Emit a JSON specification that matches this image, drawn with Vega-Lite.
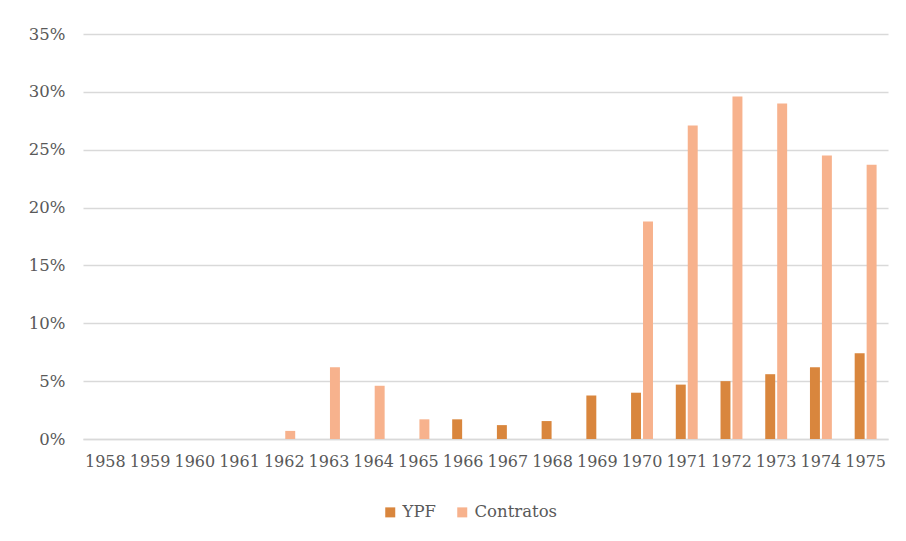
{
  "$schema": "https://vega.github.io/schema/vega-lite/v6.json",
  "width": 805,
  "height": 405,
  "autosize": {"type": "none"},
  "padding": {"left": 83, "top": 34, "right": 18, "bottom": 102},
  "background": "white",
  "config": {
    "view": {"stroke": null},
    "font": "DejaVu Serif"
  },
  "data": {
    "values": [
      {"year": "1958", "serie": "YPF", "value": 0}, {"year": "1958", "serie": "Contratos", "value": 0},
      {"year": "1959", "serie": "YPF", "value": 0}, {"year": "1959", "serie": "Contratos", "value": 0},
      {"year": "1960", "serie": "YPF", "value": 0}, {"year": "1960", "serie": "Contratos", "value": 0},
      {"year": "1961", "serie": "YPF", "value": 0}, {"year": "1961", "serie": "Contratos", "value": 0},
      {"year": "1962", "serie": "YPF", "value": 0}, {"year": "1962", "serie": "Contratos", "value": 0.007},
      {"year": "1963", "serie": "YPF", "value": 0}, {"year": "1963", "serie": "Contratos", "value": 0.062},
      {"year": "1964", "serie": "YPF", "value": 0}, {"year": "1964", "serie": "Contratos", "value": 0.046},
      {"year": "1965", "serie": "YPF", "value": 0}, {"year": "1965", "serie": "Contratos", "value": 0.017},
      {"year": "1966", "serie": "YPF", "value": 0.017}, {"year": "1966", "serie": "Contratos", "value": 0},
      {"year": "1967", "serie": "YPF", "value": 0.012}, {"year": "1967", "serie": "Contratos", "value": 0},
      {"year": "1968", "serie": "YPF", "value": 0.0155}, {"year": "1968", "serie": "Contratos", "value": 0},
      {"year": "1969", "serie": "YPF", "value": 0.0375}, {"year": "1969", "serie": "Contratos", "value": 0},
      {"year": "1970", "serie": "YPF", "value": 0.040}, {"year": "1970", "serie": "Contratos", "value": 0.188},
      {"year": "1971", "serie": "YPF", "value": 0.047}, {"year": "1971", "serie": "Contratos", "value": 0.271},
      {"year": "1972", "serie": "YPF", "value": 0.050}, {"year": "1972", "serie": "Contratos", "value": 0.296},
      {"year": "1973", "serie": "YPF", "value": 0.056}, {"year": "1973", "serie": "Contratos", "value": 0.290},
      {"year": "1974", "serie": "YPF", "value": 0.062}, {"year": "1974", "serie": "Contratos", "value": 0.245},
      {"year": "1975", "serie": "YPF", "value": 0.074}, {"year": "1975", "serie": "Contratos", "value": 0.237}
    ]
  },
  "mark": {"type": "bar"},
  "encoding": {
    "x": {
      "field": "year",
      "type": "nominal",
      "sort": null,
      "scale": {"paddingInner": 0.51, "paddingOuter": 0.255},
      "axis": {
        "title": null,
        "labelAngle": 0,
        "labelFont": "DejaVu Serif",
        "labelFontSize": 16,
        "labelColor": "#595959",
        "labelPadding": 14,
        "ticks": false,
        "tickSize": 0,
        "domainColor": "#d9d9d9",
        "domainWidth": 1.5,
        "grid": false
      }
    },
    "xOffset": {
      "field": "serie",
      "type": "nominal",
      "sort": ["YPF", "Contratos"],
      "scale": {"paddingInner": 0.167, "paddingOuter": 0}
    },
    "y": {
      "field": "value",
      "type": "quantitative",
      "scale": {"domain": [0, 0.35], "nice": false},
      "axis": {
        "title": null,
        "format": ".0%",
        "values": [0, 0.05, 0.1, 0.15, 0.2, 0.25, 0.3, 0.35],
        "labelFont": "DejaVu Serif",
        "labelFontSize": 16.5,
        "labelColor": "#595959",
        "labelPadding": 18,
        "ticks": false,
        "domain": false,
        "grid": true,
        "gridColor": "#d9d9d9",
        "gridWidth": 1.5
      }
    },
    "color": {
      "field": "serie",
      "type": "nominal",
      "sort": ["YPF", "Contratos"],
      "scale": {"domain": ["YPF", "Contratos"], "range": ["#d9863d", "#f7b28d"]},
      "legend": {
        "title": null,
        "orient": "none",
        "direction": "horizontal",
        "legendX": 299,
        "legendY": 470,
        "symbolType": "square",
        "symbolSize": 100,
        "symbolStrokeWidth": 0,
        "labelFont": "DejaVu Serif",
        "labelFontSize": 16.5,
        "labelColor": "#595959",
        "labelOffset": 4,
        "columnPadding": 18
      }
    }
  }
}
